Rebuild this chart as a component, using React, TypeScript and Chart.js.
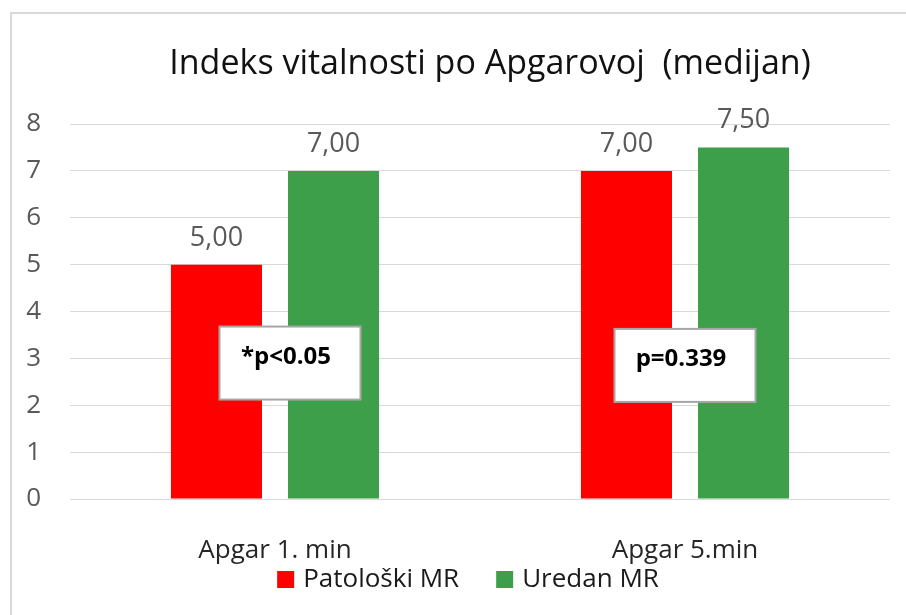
import React, { useEffect, useRef } from "react";
import { Chart, registerables } from "chart.js";

Chart.register(...registerables);

const categories = ["Apgar 1. min", "Apgar 5.min"];
const seriesNames = ["Patološki MR", "Uredan MR"];
const patoloskiValues = [5, 7];
const uredanValues = [7, 7.5];
const yMin = 0;
const yMax = 8;
const yStep = 1;
const pValueLabels = ["*p<0.05", "p=0.339"];
const pValueLevels = [2.9, 2.85];
const titleText = "Indeks vitalnosti po Apgarovoj  (medijan)";

const RED = "#ff0000";
const GREEN = "#3e9f4b";
const FONT = "'Open Sans', 'Noto Sans', sans-serif";

const framePlugin = {
  id: "frame",
  beforeDraw(chart: any) {
    const { ctx, width, height } = chart;
    ctx.save();
    ctx.fillStyle = "#ffffff";
    ctx.fillRect(0, 0, width, height);
    ctx.strokeStyle = "#d9d9d9";
    ctx.lineWidth = 2;
    ctx.strokeRect(11, 13, width + 20, height + 20);
    ctx.restore();
  },
};

const titlePlugin = {
  id: "customTitle",
  afterDraw(chart: any) {
    const { ctx } = chart;
    ctx.save();
    ctx.font = `34px ${FONT}`;
    ctx.fillStyle = "#111111";
    ctx.textAlign = "center";
    ctx.textBaseline = "alphabetic";
    ctx.fillText(titleText, 490, 74);
    ctx.restore();
  },
};

const legendPlugin = {
  id: "customLegend",
  afterDraw(chart: any) {
    const { ctx } = chart;
    const colors = chart.data.datasets.map((d: any) => d.backgroundColor);
    const names = chart.data.datasets.map((d: any) => d.label);
    ctx.save();
    ctx.font = `26px ${FONT}`;
    const box = 17;
    const textGap = 9;
    const itemGap = 37;
    const widths = names.map((n: string) => ctx.measureText(n).width);
    const total =
      widths.reduce((a: number, w: number) => a + box + textGap + w, 0) +
      itemGap * (names.length - 1);
    let x = 468 - total / 2;
    const baseline = 587;
    names.forEach((n: string, i: number) => {
      ctx.fillStyle = colors[i];
      ctx.fillRect(x, 571, box, box);
      ctx.fillStyle = "#1a1a1a";
      ctx.textAlign = "left";
      ctx.textBaseline = "alphabetic";
      ctx.fillText(n, x + box + textGap, baseline);
      x += box + textGap + widths[i] + itemGap;
    });
    ctx.restore();
  },
};

const dataLabelPlugin = {
  id: "dataLabels",
  afterDatasetsDraw(chart: any) {
    const { ctx } = chart;
    ctx.save();
    ctx.font = `27px ${FONT}`;
    ctx.fillStyle = "#595959";
    ctx.textAlign = "center";
    ctx.textBaseline = "alphabetic";
    chart.data.datasets.forEach((ds: any, di: number) => {
      const meta = chart.getDatasetMeta(di);
      meta.data.forEach((bar: any, i: number) => {
        const v = ds.data[i] as number;
        ctx.fillText(v.toFixed(2).replace(".", ","), bar.x, bar.y - 19);
      });
    });
    ctx.restore();
  },
};

const pValuePlugin = {
  id: "pValues",
  afterDatasetsDraw(chart: any) {
    const { ctx } = chart;
    const xs = chart.scales.x;
    const ys = chart.scales.y;
    ctx.save();
    pValueLabels.forEach((label, i) => {
      const cx = xs.getPixelForValue(i) + (i === 0 ? 15 : 0);
      const cy = ys.getPixelForValue(pValueLevels[i]);
      const w = 141;
      const h = 73;
      ctx.fillStyle = "#ffffff";
      ctx.fillRect(cx - w / 2, cy - h / 2, w, h);
      ctx.strokeStyle = "#a6a6a6";
      ctx.lineWidth = 2;
      ctx.strokeRect(cx - w / 2, cy - h / 2, w, h);
      ctx.font = `bold 24px ${FONT}`;
      ctx.fillStyle = "#000000";
      ctx.textAlign = "center";
      ctx.textBaseline = "middle";
      ctx.fillText(label, cx - 4, cy - 6);
    });
    ctx.restore();
  },
};

export default function App() {
  const ref = useRef<HTMLCanvasElement>(null);
  useEffect(() => {
    document.body.style.margin = "0";
    const canvas = ref.current!;
    const chart = new Chart(canvas, {
      type: "bar",
      data: {
        labels: categories,
        datasets: [
          {
            label: seriesNames[0],
            data: patoloskiValues,
            backgroundColor: RED,
            borderWidth: 0,
            categoryPercentage: 0.571,
            barPercentage: 0.778,
          },
          {
            label: seriesNames[1],
            data: uredanValues,
            backgroundColor: GREEN,
            borderWidth: 0,
            categoryPercentage: 0.571,
            barPercentage: 0.778,
          },
        ],
      },
      options: {
        responsive: false,
        animation: false,
        layout: { padding: { left: 10, right: 16, top: 124, bottom: 0 } },
        plugins: {
          title: { display: false },
          tooltip: { enabled: false },
          legend: { display: false },
        },
        scales: {
          x: {
            grid: { display: false },
            border: { display: false },
            ticks: {
              font: { family: FONT, size: 26 },
              color: "#262626",
              padding: 28,
            },
            afterFit(scale: any) {
              scale.height = 116;
            },
          },
          y: {
            min: yMin,
            max: yMax,
            ticks: {
              stepSize: yStep,
              font: { family: FONT, size: 26 },
              color: "#595959",
              padding: 29,
            },
            grid: { color: "#d9d9d9", lineWidth: 1, drawTicks: false },
            border: { display: false },
            afterFit(scale: any) {
              scale.width = 60;
            },
          },
        },
      },
      plugins: [framePlugin, titlePlugin, legendPlugin, dataLabelPlugin, pValuePlugin],
    });
    return () => chart.destroy();
  }, []);
  return (
    <div style={{ width: 906, height: 615 }}>
      <canvas ref={ref} width={906} height={615} />
    </div>
  );
}
